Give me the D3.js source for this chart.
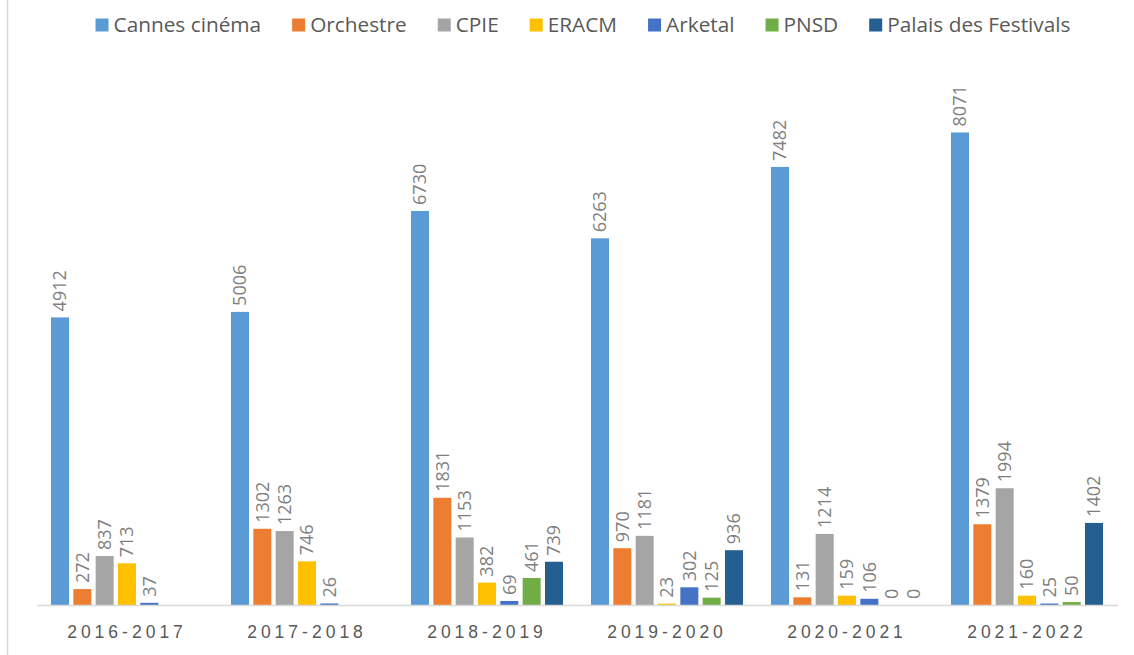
<!DOCTYPE html>
<html lang="fr">
<head>
<meta charset="utf-8">
<title>Fréquentation</title>
<script src="https://cdn.jsdelivr.net/npm/d3@7"></script>
<style>
  body { margin: 0; background: #fff; }
  svg { display: block; font-family: "Open Sans", "Noto Sans", sans-serif; }
  .val { fill: #7f7f7f; font-size: 18px; }
  .cat { fill: #595959; font-size: 17.5px; letter-spacing: 4px; }
  .leg { fill: #595959; font-size: 20.8px; }
</style>
</head>
<body>
<script>
// categories
var seasons = ["2016-2017", "2017-2018", "2018-2019", "2019-2020", "2020-2021", "2021-2022"];
var seriesNames = ["Cannes cinéma", "Orchestre", "CPIE", "ERACM", "Arketal", "PNSD", "Palais des Festivals"];
var colors = ["#5B9BD5", "#ED7D31", "#A5A5A5", "#FFC000", "#4472C4", "#70AD47", "#255E91"];

// one array per series, same order as seasons (null = no data)
var cannesCinema = [4912, 5006, 6730, 6263, 7482, 8071];
var orchestre    = [272, 1302, 1831, 970, 131, 1379];
var cpie         = [837, 1263, 1153, 1181, 1214, 1994];
var eracm        = [713, 746, 382, 23, 159, 160];
var arketal      = [37, 26, 69, 302, 106, 25];
var pnsd         = [null, null, 461, 125, 0, 50];
var palais       = [null, null, 739, 936, 0, 1402];
var seriesValues = [cannesCinema, orchestre, cpie, eracm, arketal, pnsd, palais];

var W = 1134, H = 655;
var svg = d3.select("body").append("svg").attr("width", W).attr("height", H);

// chart border on the left
svg.append("line")
  .attr("x1", 7.5).attr("x2", 7.5).attr("y1", 0).attr("y2", H)
  .attr("stroke", "#d9d9d9").attr("stroke-width", 1.5);

var x0 = d3.scaleBand().domain(seasons).range([37, 1117])
  .paddingInner(0.1556).paddingOuter(0.0778);
var x1 = d3.scaleBand().domain(seriesNames).range([0, x0.bandwidth()])
  .paddingInner(0.194);
var y = d3.scaleLinear().domain([0, 10000]).range([605, 19.5]);

var rows = [];
seasons.forEach(function(s, i) {
  seriesNames.forEach(function(n, j) {
    rows.push({ season: s, name: n, value: seriesValues[j][i], color: colors[j] });
  });
});
var present = rows.filter(function(d) { return d.value !== null; });

svg.append("g").selectAll("rect")
  .data(present.filter(function(d) { return d.value > 0; }))
  .enter().append("rect")
  .attr("x", function(d) { return x0(d.season) + x1(d.name); })
  .attr("y", function(d) { return y(d.value); })
  .attr("width", x1.bandwidth())
  .attr("height", function(d) { return y(0) - y(d.value); })
  .attr("fill", function(d) { return d.color; });

// axis line
svg.append("line")
  .attr("x1", 37).attr("x2", 1118).attr("y1", 605.5).attr("y2", 605.5)
  .attr("stroke", "#d9d9d9").attr("stroke-width", 1.5);

// value labels, rotated
svg.append("g").selectAll("text")
  .data(present)
  .enter().append("text")
  .attr("class", "val")
  .attr("transform", function(d) {
    var cx = x0(d.season) + x1(d.name) + x1.bandwidth() / 2;
    return "translate(" + cx + "," + (y(d.value) - 6) + ") rotate(-90)";
  })
  .attr("dy", "0.36em")
  .text(function(d) { return d.value; });

// category labels
var xAxis = svg.append("g").attr("transform", "translate(0,605)")
  .call(d3.axisBottom(x0).tickSize(0).tickPadding(21));
xAxis.select(".domain").remove();
xAxis.selectAll("text").attr("class", "cat").attr("font-family", null).attr("font-size", null)
  .attr("fill", null).attr("dy", "0.71em");

// legend
var leg = svg.append("g").attr("class", "legend");
var items = leg.selectAll("g").data(seriesNames).enter().append("g");
items.append("rect").attr("width", 13).attr("height", 13).attr("y", -6.5)
  .attr("fill", function(d, i) { return colors[i]; });
items.append("text").attr("class", "leg").attr("x", 18).attr("dy", "0.35em")
  .text(function(d) { return d; });
var gap = 31;
var pos = 0;
items.each(function() {
  var w = this.querySelector("text").getComputedTextLength() + 18;
  this._x = pos;
  pos += w + gap;
});
var total = pos - gap;
var start = 583 - total / 2;
items.attr("transform", function() { return "translate(" + (start + this._x) + ",25)"; });
</script>
</body>
</html>
